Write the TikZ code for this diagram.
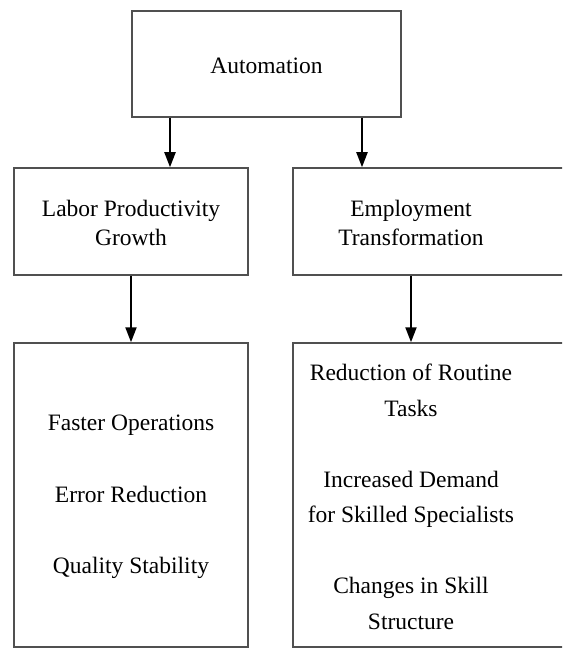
\documentclass[tikz,border=0pt]{standalone}
\usepackage{fontspec}
\setmainfont{Liberation Serif}
\usetikzlibrary{arrows.meta}
\definecolor{frame}{RGB}{80,80,80}
\begin{document}
\begin{tikzpicture}[x=1pt,y=-1pt,
  box/.style={draw=frame,line width=1.5pt,rectangle,inner sep=0pt},
  lbl/.style={align=center,inner sep=0pt,font=\fontsize{23.5}{29}\selectfont},
  lblb/.style={align=center,inner sep=0pt,font=\fontsize{23.5}{35.5}\selectfont},
  arr/.style={line width=2.1pt,-{Triangle[width=11pt,length=15pt]}}]
\useasboundingbox (0,0) rectangle (562,655);
\clip (0,0) rectangle (562,655);
% boxes
\node[box,minimum width=269pt,minimum height=106pt] (auto) at (266.5,64) {};
\node[box,minimum width=234pt,minimum height=107pt] (lpg) at (131,221.5) {};
\node[box,minimum width=282pt,minimum height=107pt] (et) at (434,221.5) {};
\node[box,minimum width=234pt,minimum height=304pt] (lb) at (131,495) {};
\node[box,minimum width=282pt,minimum height=304pt] (rb) at (434,495) {};
% texts
\node[lbl] (tauto) at (266.5,66) {Automation};
\node[lbl] (tlpg) at (131,223) {Labor Productivity\\Growth};
\node[lbl] (tet) at (411,223) {Employment\\Transformation};
\node[lblb] (tlb) at (131,497) {Faster Operations\\[36pt]Error Reduction\\[36pt]Quality Stability};
\node[lblb] (trb) at (411,497) {Reduction of Routine\\Tasks\\[35.5pt]Increased Demand\\for Skilled Specialists\\[35.5pt]Changes in Skill\\Structure};
% arrows
\draw[arr] (170,0 |- auto.south) -- (170,0 |- lpg.north);
\draw[arr] (362,0 |- auto.south) -- (362,0 |- et.north);
\draw[arr] (131,0 |- lpg.south) -- (131,0 |- lb.north);
\draw[arr] (411,0 |- et.south) -- (411,0 |- rb.north);
\end{tikzpicture}
\end{document}
